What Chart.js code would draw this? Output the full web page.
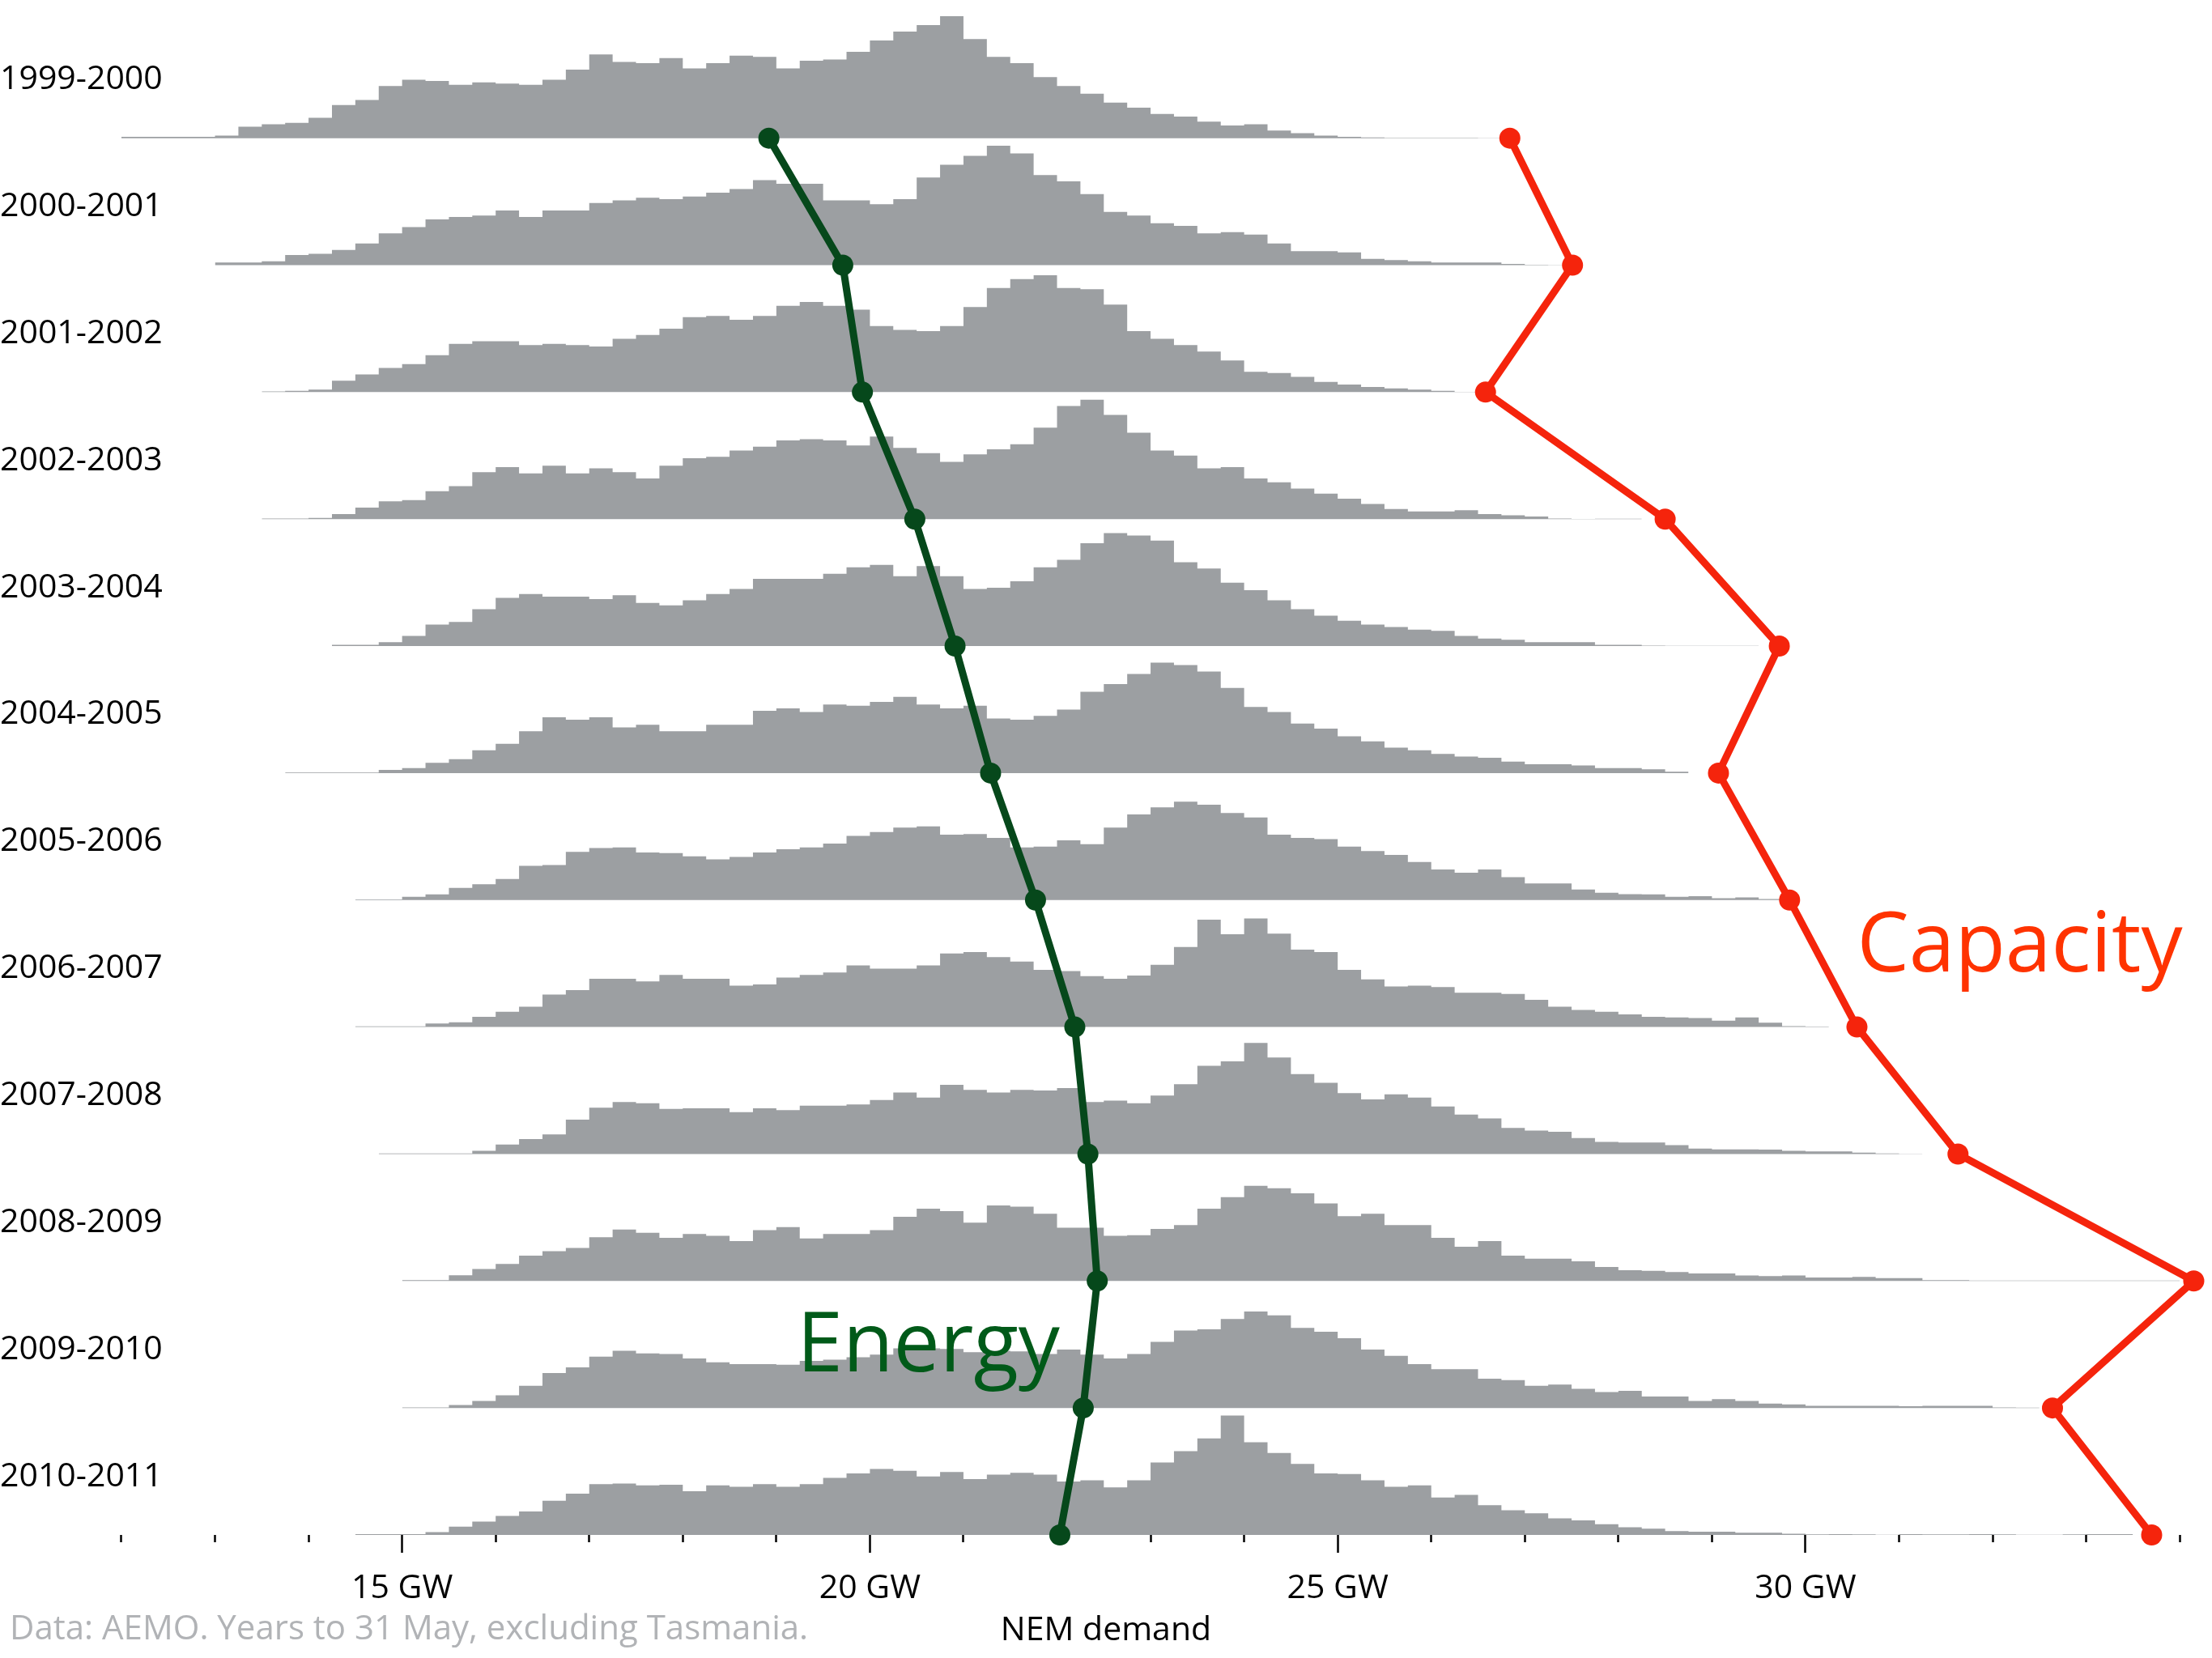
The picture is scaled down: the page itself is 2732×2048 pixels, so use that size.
<!DOCTYPE html>
<html>
<head>
<meta charset="utf-8">
<script src="https://cdn.jsdelivr.net/npm/chart.js@4.4.1/dist/chart.umd.min.js"></script>
<style>
  html, body { margin: 0; padding: 0; background: #fff; }
  #wrap { width: 2732px; height: 2048px; }
</style>
</head>
<body>
<div id="wrap"><canvas id="nemChart" width="2732" height="2048"></canvas></div>
<script>
// financial years, top to bottom
var years = ["1999-2000", "2000-2001", "2001-2002", "2002-2003", "2003-2004", "2004-2005",
  "2005-2006", "2006-2007", "2007-2008", "2008-2009", "2009-2010", "2010-2011"];

// average demand (energy) and peak demand (capacity), GW
var energy = [18.92, 19.71, 19.92, 20.48, 20.91, 21.29, 21.77, 22.19, 22.33, 22.43, 22.28, 22.03];
var capacity = [26.84, 27.51, 26.58, 28.50, 29.72, 29.07, 29.83, 30.55, 31.63, 34.15, 32.64, 33.70];

// demand histograms: bins of 0.25 GW, relative frequency (% of row height)
var binWidth = 0.25;
var binStart = [12.0, 13.0, 13.5, 13.5, 14.25, 13.75, 14.5, 14.5, 14.75, 15.0, 15.0, 14.5];

var h1999 = [1,1,1,1, 2,9,11,12, 16,26,30,41, 46,45,42,44, 43,42,46,54, 66,60,59,63, 55,59,65,64,
  55,61,62,68, 77,84,89,96, 78,64,59,48, 41,35,28,24, 19,17,13,10, 11,6,4,2, 1,0.5,0.3,0.2, 0.2,0.2,0.1];
var h2000 = [2,2,3,8, 9,12,17,25, 30,36,38,39, 43,38,43,43, 49,51,53,52, 54,57,60,67, 64,64,51,51,
  48,52,69,79, 86,94,88,71, 66,56,42,39, 33,31,25,26, 24,17,11,11, 10,5,4,3, 2,2,2,1, 0.3,0.2];
var h2001 = [0.5,1, 2,9,14,19, 22,29,38,40, 40,37,38,37, 36,42,45,50, 59,60,57,60, 68,71,68,65,
  52,49,48,52, 67,82,89,92, 82,81,69,48, 42,37,32,25, 16,15,12,8, 6,4,3,2, 1,0.2];
var h2002 = [0.5,0.5, 1,4,9,14, 15,22,26,37, 41,36,42,36, 40,37,32,42, 48,49,54,57, 62,63,62,58,
  65,56,52,45, 51,55,59,72, 89,94,82,68, 54,50,40,41, 32,29,24,20, 16,12,8,6, 6,7,4,3,
  2,0.5,0.2,0.3, 0.3];
var h2003 = [1,1,3, 8,17,19,29, 38,41,39,39, 37,40,34,32, 36,41,45,53, 53,53,57,62, 64,55,63,55,
  45,46,51,62, 68,81,89,87, 83,66,61,50, 44,36,29,24, 20,17,15,13, 12,8,6,5, 3,3,3,1,
  1,0.4,0.2,0.2, 0.2,0.2];
var h2004 = [0.4, 0.4,0.4,0.4,2.5, 4,8,11,18, 23,33,44,42, 44,36,38,33, 33,38,38,49, 51,48,54,53,
  56,60,54,51, 53,43,42,45, 50,64,70,78, 87,85,80,67, 52,48,39,35, 29,25,20,18, 15,13,12,9,
  7,7,6,4, 4,3,1];
var h2005 = [0.4,0.4, 2.5,4.5,9.5,12.5, 16.5,27,27.5,38, 41,41.5,37.5,37, 34.5,32,34,37.5,
  40,41.5,44.5,50.5, 53.5,57,58,51.5, 52,49,41.5,42, 47,44,57,67.5, 73,77.5,75,68.5,
  65,51.5,49,48, 42,38.5,35.5,30, 24,21.5,24,18, 13,13,8.3,5.7, 4.7,4.5,2.5,3, 1.5,2,0.8];
var h2006 = [0.5,0.5, 0.5,2.8,3.8,8, 12,16,25.5,29, 38,38,36,41, 38,38,32.5,33.5, 39,41,43,48.5,
  46,46,48.5,58, 59,55,51.5,45, 44,40,38,40.5, 49,63,84.5,73, 85.5,73.5,61,59, 45,37.5,32,32.5,
  31.5,27,27,26, 21.5,16,13.5,12, 10,8,7.5,7, 5,7.5,3.4,0.7, 0.4];
var h2007 = [0.4, 0.4,0.4,0.4,2.5, 7.5,11.7,15.5,27, 36.5,41,40,35.5, 36,36,33,36, 34.5,38,38,39,
  42.5,48.5,44.5,54.5, 50.5,48.5,50.5,50, 52,41,42,40, 46,55,69.5,73, 87.5,76,63,56,
  48,43,47,44.5, 37.5,31,28,20.5, 18.5,17.5,12.5,9.5, 9,9,7,4.3, 3.6,3.6,3.4,2.5,
  2.1,2,1.1,0.4, 0.2];
var h2008 = [0.6,0.6,4.5,9.5, 13.5,20,23.5,26, 34.5,40.5,38,34, 37,35.5,31.5,40, 42.5,33.5,37,37,
  40,50.5,57,55, 46,59.5,58.5,53, 42,42,35.5,36, 41,44,57,66, 75,73,69,61, 51,53,44,44,
  34,27,31.5,20, 17.5,17.5,15.5,11, 8.5,8,7,6, 6,4.3,3.8,4.3, 2.8,2.8,3.2,2.3,
  2.3,0.6,0.6,0.4, 0.4,0.4,0.4,0.3, 0.4,0.4,0.3,0.3];
var h2009 = [0.4,0.4,2.3,5.5, 10,17.5,27.5,32, 40.5,45,43,42.5, 39,36,34.5,34.5, 34,37,38,40,
  42,47,47,46.5, 44,45,44.5,42.5, 46,42,39,42.5, 52,61,62,70, 76,73,63,60, 55,46,41,34.5,
  30.5,30.5,23,22, 17.5,18.5,15,12.5, 13.5,9,9,5.5, 7,5.5,3.4,2.8, 1.7,1.7,1.7,1.7,
  1.3,1.7,1.7,1.7, 0.4,0.2];
var h2010 = [0.6,0.6, 0.6,2.3,6.5,10.5, 15,18.5,27,32.5, 40,40.5,39,39.5, 34.5,39,38,40,
  38,40,45,48.5, 52,50.5,46,49.5, 44,47.5,49,47.5, 42,43,37.5,43, 57,66,76,94, 73,64.5,56,48.5,
  48,43,38,39, 29.5,31.5,23.5,19.5, 17,13,11.5,8.5, 6,5,3,2.5, 2.5,1.7,1.7,1,
  0.4,0.6,0.4,0.2, 0.6,0.4,0.4,0.6, 0.4,0.2,0.2,0.4, 0.6,0.6];
var hists = [h1999, h2000, h2001, h2002, h2003, h2004, h2005, h2006, h2007, h2008, h2009, h2010];

// x axis ticks (GW)
var tickValues = [12,13,14,15,16,17,18,19,20,21,22,23,24,25,26,27,28,29,30,31,32,33,34];
var labelledTicks = [15, 20, 25, 30];

var FONT = '"Open Sans", "Noto Sans", sans-serif';
var GREEN = "#06481b";
var RED = "#f5240c";
var GREY = "#9c9fa2";
var LABEL_OFFSET = 0.46;

function rowBase(i) {
  return years.length - 1 - i;
}

var datasets = [];
datasets.push({
  label: "Energy",
  data: years.map(function (y, i) { return { x: energy[i], y: rowBase(i) }; }),
  borderColor: GREEN,
  backgroundColor: GREEN,
  borderWidth: 9,
  borderJoinStyle: "round",
  pointRadius: 13,
  pointBorderWidth: 0,
  pointBackgroundColor: GREEN,
  clip: false,
  order: 0,
});
datasets.push({
  label: "Capacity",
  data: years.map(function (y, i) { return { x: capacity[i], y: rowBase(i) }; }),
  borderColor: RED,
  backgroundColor: RED,
  borderWidth: 9,
  borderJoinStyle: "round",
  pointRadius: 13,
  pointBorderWidth: 0,
  pointBackgroundColor: RED,
  clip: false,
  order: 0,
});
hists.forEach(function (h, i) {
  var base = rowBase(i);
  var pts = h.map(function (v, j) { return { x: binStart[i] + j * binWidth, y: base + v / 100 }; });
  pts.push({ x: binStart[i] + h.length * binWidth, y: base });
  datasets.push({
    label: years[i],
    data: pts,
    stepped: true,
    fill: { value: base },
    backgroundColor: GREY,
    borderColor: "rgba(0,0,0,0)",
    borderWidth: 0,
    pointRadius: 0,
    order: 1,
  });
});

var textPlugin = {
  id: "textLabels",
  afterDatasetsDraw: function (chart) {
    var ctx = chart.ctx;
    var x = chart.scales.x;
    var y = chart.scales.y;
    ctx.save();
    ctx.textAlign = "left";
    ctx.textBaseline = "alphabetic";
    ctx.font = "102px " + FONT;
    ctx.fillStyle = "#005a19";
    ctx.fillText("Energy", x.getPixelForValue(19.22), y.getPixelForValue(1.29));
    ctx.fillStyle = "#ff3300";
    ctx.fillText("Capacity", x.getPixelForValue(30.55), y.getPixelForValue(4.44));
    ctx.font = "42px " + FONT;
    ctx.fillStyle = "#b1b3b6";
    ctx.textBaseline = "middle";
    ctx.fillText("Data: AEMO. Years to 31 May, excluding Tasmania.", 12, 2013);
    ctx.restore();
  },
};

var ctx = document.getElementById("nemChart").getContext("2d");
var nemChart = new Chart(ctx, {
  type: "line",
  data: { datasets: datasets },
  plugins: [textPlugin],
  options: {
    responsive: false,
    animation: false,
    events: [],
    layout: { padding: 0, autoPadding: false },
    plugins: {
      legend: { display: false },
      tooltip: { enabled: false },
      title: { display: false },
    },
    scales: {
      x: {
        type: "linear",
        position: "bottom",
        min: 10.702,
        max: 34.345,
        border: { display: false },
        grid: {
          drawOnChartArea: false,
          drawTicks: true,
          tickLength: 22,
          tickWidth: 2.5,
          tickColor: "#000",
          tickBorderDash: function (c) {
            return c.tick && labelledTicks.indexOf(c.tick.value) >= 0 ? [] : [9, 40];
          },
        },
        afterBuildTicks: function (scale) {
          scale.ticks = tickValues.map(function (v) { return { value: v }; });
        },
        afterFit: function (scale) {
          scale.height = 152;
          scale.paddingLeft = 0;
          scale.paddingRight = 0;
        },
        ticks: {
          autoSkip: false,
          maxRotation: 0,
          minRotation: 0,
          padding: 20,
          color: "#000",
          font: { family: FONT, size: 41 },
          callback: function (v) {
            return labelledTicks.indexOf(v) >= 0 ? v + " GW" : "";
          },
        },
        title: {
          display: true,
          text: "NEM demand",
          color: "#000",
          font: { family: FONT, size: 41 },
          padding: { top: 0, bottom: 9 },
        },
      },
      y: {
        type: "linear",
        position: "left",
        min: 0,
        max: 12.088,
        border: { display: false },
        grid: { display: false, drawTicks: false },
        afterBuildTicks: function (scale) {
          scale.ticks = years.map(function (y, i) { return { value: rowBase(i) + LABEL_OFFSET }; });
        },
        afterFit: function (scale) {
          scale.width = 0;
          scale.paddingTop = 0;
          scale.paddingBottom = 0;
        },
        ticks: {
          mirror: true,
          padding: 0,
          autoSkip: false,
          color: "#000",
          font: { family: FONT, size: 41 },
          callback: function (v) {
            var i = Math.round(years.length - 1 + LABEL_OFFSET - v);
            return years[i];
          },
        },
      },
    },
  },
});
</script>
</body>
</html>
